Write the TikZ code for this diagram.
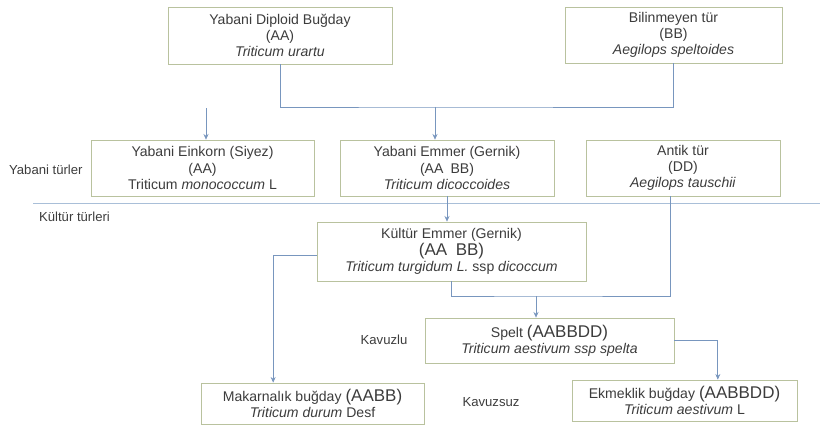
\documentclass[tikz,border=0pt]{standalone}
\usepackage{fontspec}
\setmainfont{Liberation Sans}
\usetikzlibrary{positioning,arrows.meta,calc}
\definecolor{ink}{HTML}{3C3C3C}
\definecolor{frame}{HTML}{B9C29E}
\definecolor{wire}{HTML}{7896BE}
\definecolor{rule}{HTML}{A9BFD8}
\newcommand{\geno}[1]{{\fontsize{14.5}{16}\selectfont #1}}
\tikzset{
  sp/.style={draw=frame,line width=0.6pt,align=center,inner sep=2pt,text=ink,
             font=\fontsize{12}{13.8}\selectfont},
  lbl/.style={text=ink,font=\fontsize{11.2}{13.8}\selectfont},
  arr/.style={-{Stealth[length=1.7mm,width=1.5mm]},line width=0.6pt,color=wire},
  wire/.style={line width=0.6pt,color=wire},
}

\begin{document}
\begin{tikzpicture}[x=1cm,y=1cm]
    \useasboundingbox (0,0) rectangle (24.6,12.84);
    % Ancestors
    \node[sp,minimum width=6.72cm,minimum height=1.71cm] (diploid) at (8.4,11.775)
      {Yabani Diploid Buğday\\(AA)\\\textit{Triticum urartu}};
    \node[sp,minimum width=6.51cm,minimum height=1.68cm] (unknown) at (20.205,11.79)
      {Bilinmeyen tür\\(BB)\\\textit{Aegilops speltoides}};
    % Wild species
    \node[sp,minimum width=6.69cm,minimum height=1.68cm] (einkorn) at (6.075,7.8)
      {Yabani Einkorn (Siyez)\\(AA)\\Triticum \textit{monococcum} L};
    \node[sp,minimum width=6.42cm,minimum height=1.68cm] (wemmer) at (13.41,7.8)
      {Yabani Emmer (Gernik)\\(AA\enspace BB)\\\textit{Triticum dicoccoides}};
    \node[sp,minimum width=5.82cm,minimum height=1.68cm] (antik) at (20.49,7.8)
      {Antik tür\\(DD)\\\textit{Aegilops tauschii}};
    % Cultivated species
    \node[sp,minimum width=8.07cm,minimum height=1.77cm] (kemmer) at (13.545,5.295)
      {Kültür Emmer (Gernik)\\\geno{(AA\enspace BB)}\\\textit{Triticum turgidum L.} ssp \textit{dicoccum}};
    \node[sp,minimum width=7.47cm,minimum height=1.35cm] (spelt) at (16.485,2.625)
      {Spelt \geno{(AABBDD)}\\\textit{Triticum aestivum ssp spelta}};
    \node[sp,minimum width=6.69cm,minimum height=1.23cm] (durum) at (9.375,0.735)
      {Makarnalık buğday \geno{(AABB)}\\\textit{Triticum durum} Desf};
    \node[sp,minimum width=6.75cm,minimum height=1.23cm] (bread) at (20.535,0.825)
      {Ekmeklik buğday \geno{(AABBDD)}\\\textit{Triticum aestivum} L};
    % Labels
    \node[lbl,anchor=west] (wild) at (0.15,7.74) {Yabani türler};
    \node[lbl,anchor=west] (cult) at (1.05,6.33) {Kültür türleri};
    \node[lbl] (hulled) at (11.52,2.64) {Kavuzlu};
    \node[lbl] (naked) at (14.73,0.78) {Kavuzsuz};
    \draw[rule,line width=0.8pt] (0.99,6.75) -- (24.6,6.75);
    % Connectors
    \coordinate (d1) at (6.18,9.585);
    \coordinate (j1) at (13.05,9.63);
    \coordinate (j2) at (16.08,3.96);
    \draw[arr] (d1) -- (d1 |- einkorn.north);
    \draw[wire] (diploid.south) |- (j1) -| (unknown.south);
    \draw[arr] (j1) -- (j1 |- wemmer.north);
    \draw[arr] (wemmer.south) -- (wemmer.south |- kemmer.north);
    \draw[wire] ([xshift=-0.39cm]antik.south) |- (j2) -| (kemmer.south);
    \draw[arr] (j2) -- (j2 |- spelt.north);
    \draw[arr] ([yshift=-0.13cm]kemmer.west) -| ([xshift=-1.18cm]durum.north);
    \draw[arr] (spelt.east) -| ([xshift=1cm]bread.north);
\end{tikzpicture}
\end{document}
